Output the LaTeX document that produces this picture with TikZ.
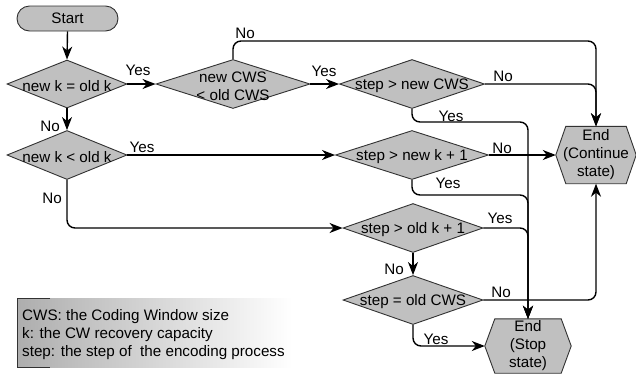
\documentclass[tikz,border=0pt]{standalone}
\usepackage{fontspec}
\setmainfont{Liberation Sans}
\usetikzlibrary{shapes.geometric,arrows.meta,backgrounds,calc}
\definecolor{boxgray}{RGB}{192,192,192}
\definecolor{edgegray}{RGB}{50,50,50}
\begin{document}
\begin{tikzpicture}[x=1pt,y=-1pt,
  font=\fontsize{15.2}{18}\selectfont,
  dia/.style={diamond, draw=edgegray, fill=boxgray, line width=0.9pt, inner sep=0pt},
  diatext/.style={align=center, yshift=-2pt, inner sep=0pt},
  hexnode/.style={align=center, inner sep=0pt},
  hexshape/.style={draw=edgegray, fill=boxgray, line width=0.9pt},
  flow/.style={draw=black, line width=1.4pt, -{Stealth[length=13pt,width=10pt,inset=4pt]}},
  route/.style={flow, rounded corners=8pt},
  lbl/.style={inner sep=0pt}
]
\useasboundingbox (0,0) rectangle (636,376);

% start
\node[draw=edgegray, fill=boxgray, line width=0.9pt, rounded corners=12.5pt,
      minimum width=101pt, minimum height=25pt, inner sep=0pt] (start) at (67.5,18.5) {Start};

% decisions
\node[dia, minimum width=120pt, minimum height=48pt,
      label={[diatext]center:new k = old k}] (d1) at (67,84) {};
\node[dia, minimum width=154pt, minimum height=49pt,
      label={[diatext]center:new CWS\\< old CWS}] (d2) at (233,84) {};
\node[dia, minimum width=145pt, minimum height=49pt,
      label={[diatext]center:step > new CWS}] (d3) at (412,84) {};
\node[dia, minimum width=120pt, minimum height=49pt,
      label={[diatext]center:new k < old k}] (d4) at (67,155) {};
\node[dia, minimum width=153pt, minimum height=49pt,
      label={[diatext]center:step > new k + 1}] (d5) at (412,155) {};
\node[dia, minimum width=140pt, minimum height=49pt,
      label={[diatext]center:step > old k + 1}] (d6) at (413,228) {};
\node[dia, minimum width=140pt, minimum height=49pt,
      label={[diatext]center:step = old CWS}] (d7) at (413,300) {};

% ends
\node[hexnode, minimum width=80pt, minimum height=57pt] (e1) at (596,155) {End\\(Continue\\state)};
\node[hexnode, minimum width=86pt, minimum height=54pt] (e2) at (528,346) {End\\(Stop\\state)};
\begin{scope}[on background layer]
  \draw[hexshape] (e1.west) -- ($(e1.north west)+(10,0)$) -- ($(e1.north east)+(-10,0)$)
    -- (e1.east) -- ($(e1.south east)+(-10,0)$) -- ($(e1.south west)+(10,0)$) -- cycle;
  \draw[hexshape] (e2.west) -- ($(e2.north west)+(10,0)$) -- ($(e2.north east)+(-10,0)$)
    -- (e2.east) -- ($(e2.south east)+(-10,0)$) -- ($(e2.south west)+(10,0)$) -- cycle;
\end{scope}

% helper coordinates
\coordinate (top) at (0,41);
\coordinate (r3) at (0,122);
\coordinate (r5) at (0,195);

% connectors
\draw[flow] (start.south) -- (d1.north);
\draw[flow] (d1.east) -- (d2.west);
\draw[flow] (d2.east) -- (d3.west);
\draw[route] (d3.east) -| (e1.north);
\draw[route] (d2.north) -- (d2.north |- top) -| (e1.north);
\draw[route] (d3.south) -- (d3.south |- r3) -| (e2.north);
\draw[flow] (d1.south) -- (d4.north);
\draw[flow] (d4.east) -- (d5.west);
\draw[flow] (d5.east) -- (e1.west);
\draw[route] (d5.south) -- (d5.south |- r5) -| (e2.north);
\draw[route] (d4.south) |- (d6.west);
\draw[route] (d6.east) -| (e2.north);
\draw[flow] (d6.south) -- (d7.north);
\draw[route] (d7.east) -| (e1.south);
\draw[route] (d7.south) |- (e2.west);

% labels
\node[lbl] (ly1) at (138,70) {Yes};
\node[lbl] (ly2) at (324,71) {Yes};
\node[lbl] (ln3) at (503,76) {No};
\node[lbl] (ln2) at (245,33) {No};
\node[lbl] (ly3) at (451,116) {Yes};
\node[lbl] (ln4) at (50,126) {No};
\node[lbl] (ly4) at (142,147) {Yes};
\node[lbl] (ln5) at (502,148) {No};
\node[lbl] (ly5) at (448,183) {Yes};
\node[lbl] (ln6) at (52,198) {No};
\node[lbl] (ly6) at (500,218) {Yes};
\node[lbl] (ln7) at (394,269) {No};
\node[lbl] (ln8) at (501,292) {No};
\node[lbl] (ly7) at (436,339) {Yes};

% legend
\shade[left color=black!32, right color=white] (17,298) rectangle (292,367);
\draw[edgegray, line width=1pt] (50,298) -- (17,298) -- (17,367) -- (50,367);
\node[anchor=west, align=left, inner sep=0pt] (legend) at (22,335)
  {CWS: the Coding Window size\\k: the CW recovery capacity\\step: the step of\ \ the encoding process};
\end{tikzpicture}
\end{document}
